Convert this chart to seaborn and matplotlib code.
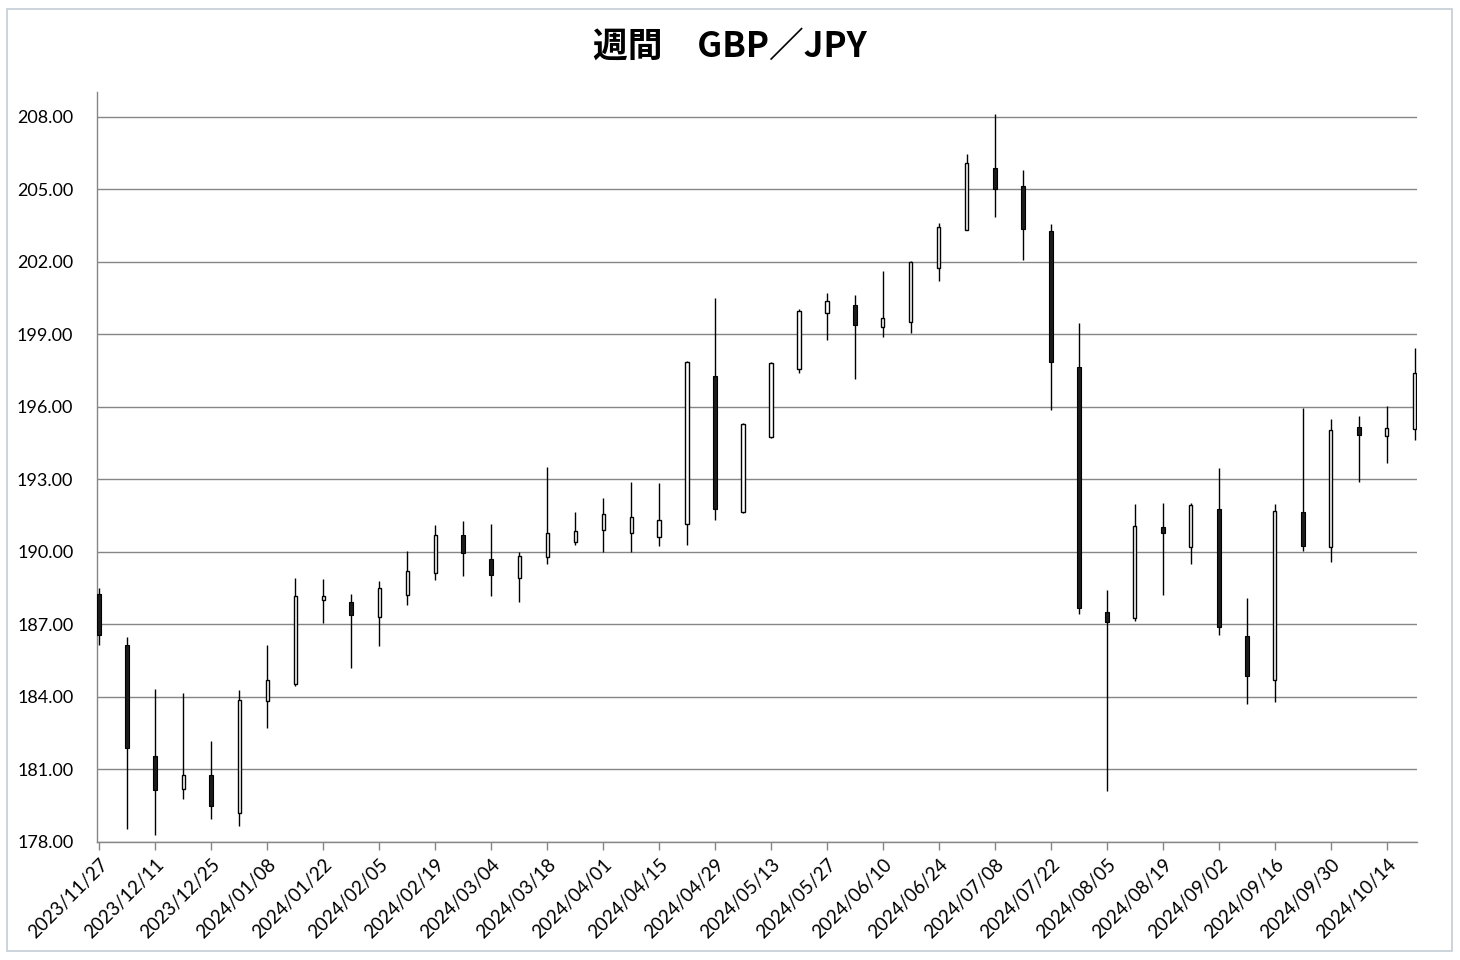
import matplotlib
matplotlib.use("Agg")
import matplotlib.pyplot as plt
import seaborn as sns
import numpy as np
import pandas as pd
from matplotlib.patches import Rectangle

sns.set_theme(style="white")
plt.rcParams['font.family'] = ['Lato', 'Noto Sans CJK JP', 'DejaVu Sans']

weeks = [
    "2023/11/27", "2023/12/04", "2023/12/11", "2023/12/18", "2023/12/25",
    "2024/01/01", "2024/01/08", "2024/01/15", "2024/01/22", "2024/01/29",
    "2024/02/05", "2024/02/12", "2024/02/19", "2024/02/26",
    "2024/03/04", "2024/03/11", "2024/03/18", "2024/03/25",
    "2024/04/01", "2024/04/08", "2024/04/15", "2024/04/22", "2024/04/29",
    "2024/05/06", "2024/05/13", "2024/05/20", "2024/05/27",
    "2024/06/03", "2024/06/10", "2024/06/17", "2024/06/24",
    "2024/07/01", "2024/07/08", "2024/07/15", "2024/07/22", "2024/07/29",
    "2024/08/05", "2024/08/12", "2024/08/19", "2024/08/26",
    "2024/09/02", "2024/09/09", "2024/09/16", "2024/09/23", "2024/09/30",
    "2024/10/07", "2024/10/14", "2024/10/21",
]

open_ = [188.26, 186.15, 181.55, 180.18, 180.76, 179.19, 183.82, 184.52, 188.02, 187.95,
         187.32, 188.21, 189.12, 190.69, 189.71, 188.91, 189.78, 190.42, 190.91, 190.80,
         190.63, 191.17, 197.29, 191.66, 194.77, 197.55, 199.87, 200.22, 199.31, 199.52,
         201.73, 203.34, 205.87, 205.14, 203.26, 197.67, 187.50, 187.25, 191.04, 190.19,
         191.78, 186.52, 184.70, 191.67, 190.19, 195.18, 194.79, 195.10]
close = [186.56, 181.88, 180.15, 180.76, 179.49, 183.87, 184.69, 188.18, 188.16, 187.40,
         188.49, 189.20, 190.69, 189.94, 189.05, 189.82, 190.77, 190.87, 191.59, 191.45,
         191.32, 197.87, 191.76, 195.29, 197.81, 199.95, 200.40, 199.38, 199.66, 202.00,
         203.43, 206.08, 205.00, 203.37, 197.87, 187.69, 187.12, 191.09, 190.80, 191.96,
         186.88, 184.88, 191.70, 190.25, 195.05, 194.84, 195.11, 197.40]
high = [188.50, 186.47, 184.33, 184.15, 182.18, 184.29, 186.15, 188.91, 188.87, 188.25,
        188.81, 190.04, 191.10, 191.28, 191.16, 189.99, 193.50, 191.64, 192.22, 192.88,
        192.84, 197.90, 200.49, 195.35, 197.87, 200.05, 200.70, 200.63, 201.62, 202.02,
        203.60, 206.47, 208.12, 205.80, 203.58, 199.47, 188.44, 191.99, 192.04, 192.04,
        193.49, 188.10, 192.00, 195.96, 195.51, 195.62, 196.04, 198.42]
low = [186.15, 178.52, 178.29, 179.77, 178.97, 178.68, 182.73, 184.45, 187.07, 185.21,
       186.12, 187.82, 188.85, 189.01, 188.19, 187.94, 189.51, 190.29, 189.99, 189.99,
       190.26, 190.29, 191.34, 191.60, 194.70, 197.40, 198.76, 197.16, 198.91, 199.04,
       201.20, 203.30, 203.84, 202.09, 195.86, 187.42, 180.10, 187.14, 188.23, 189.51,
       186.55, 183.71, 183.80, 190.04, 189.59, 192.90, 193.70, 194.62]

title = "週間　GBP／JPY"
y_ticks = [178, 181, 184, 187, 190, 193, 196, 199, 202, 205, 208]

df = pd.DataFrame({"week": weeks, "open": open_, "close": close,
                   "high": high, "low": low})
df["x"] = np.arange(len(df))
df["up"] = df["close"] >= df["open"]
df["body_lo"] = df[["open", "close"]].min(axis=1)
df["body_h"] = (df["close"] - df["open"]).abs()

W, H = 1460, 960
fig = plt.figure(figsize=(W / 100, H / 100), dpi=100)
fig.patch.set_facecolor("white")
ax = fig.add_axes([97 / W, 1 - 842 / H, (1417 - 97) / W, (842 - 92) / H])
ax.set_facecolor("white")

grid_c = "#868686"
# wicks
ax.vlines(df["x"], df["low"], df["high"], color="black", linewidth=1.0, zorder=3)
# bodies
upd = df[df["up"]]
dnd = df[~df["up"]]
ax.bar(upd["x"], upd["body_h"], bottom=upd["body_lo"], width=0.11,
       color="white", edgecolor="black", linewidth=1.0, zorder=4)
ax.bar(dnd["x"], dnd["body_h"], bottom=dnd["body_lo"], width=0.13,
       color="#1c1c1c", edgecolor="black", linewidth=0.8, zorder=4)

ax.set_xlim(-0.08, len(df) - 1 + 0.08)
ax.set_ylim(178, 209.03)
ax.set_yticks(y_ticks)
ax.set_yticklabels([f"{v:.2f}" for v in y_ticks])
ax.yaxis.grid(True, color=grid_c, linewidth=1.0)
ax.xaxis.grid(False)
ax.set_axisbelow(True)

tick_idx = df["x"][::2]
ax.set_xticks(tick_idx)
ax.set_xticklabels(df["week"][::2], rotation=45, ha="right", va="top",
                   rotation_mode="anchor")

for s in ["top", "right"]:
    ax.spines[s].set_visible(False)
for s in ["left", "bottom"]:
    ax.spines[s].set_visible(True)
    ax.spines[s].set_color(grid_c)
    ax.spines[s].set_linewidth(1.0)

ax.tick_params(axis="x", bottom=True, length=6, width=1, color=grid_c,
               direction="out", pad=4, labelsize=13.5, labelcolor="black")
ax.tick_params(axis="y", left=False, length=0, pad=17, labelsize=13,
               labelcolor="black")
ax.set_xlabel("")
ax.set_ylabel("")

fig.text(0.5, 1 - 46 / H, title, ha="center", va="center", fontsize=25,
         fontweight="bold", family=["Noto Sans CJK JP", "DejaVu Sans"],
         color="black")

fig.patches.append(Rectangle((7 / W, 1 - 951 / H), (1452 - 7) / W, (951 - 9) / H,
                             transform=fig.transFigure, fill=False,
                             edgecolor="#c4ccd4", linewidth=1.2))

fig.savefig("out.png", dpi=100)
